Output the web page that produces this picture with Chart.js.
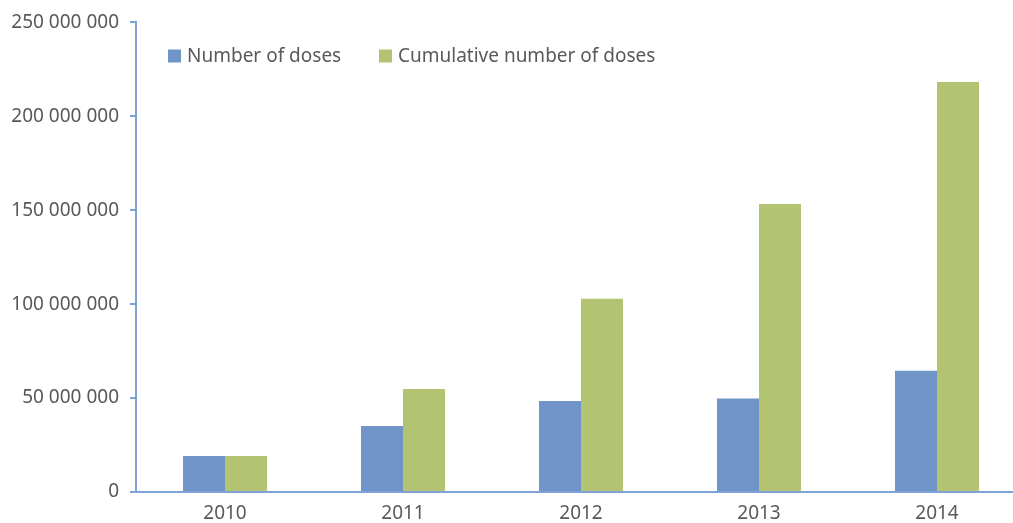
<!DOCTYPE html>
<html>
<head>
<meta charset="utf-8">
<script src="https://cdn.jsdelivr.net/npm/chart.js@4.4.1/dist/chart.umd.min.js"></script>
<style>
html,body{margin:0;padding:0;background:#fff;overflow:hidden;width:1013px;height:523px;}
#wrap{position:absolute;left:0;top:0;width:1030px;height:523px;}
</style>
</head>
<body>
<div id="wrap"><canvas id="c" width="1030" height="523"></canvas></div>
<script>
const categories = ['2010', '2011', '2012', '2013', '2014'];
const dosesPerYear = [19100000, 35100000, 48400000, 49800000, 64500000];
const cumulativeDoses = [19100000, 54900000, 102900000, 153300000, 218300000];
const yTickMax = 250000000;
const yTickStep = 50000000;

const BLUE = '#7194c8';
const GREEN = '#b2c471';
const AXIS = '#7ea2d6';
const TEXT = '#595959';
const FONT = '"Noto Sans", "Open Sans", sans-serif';

function fmt(v){ return String(v).replace(/\B(?=(\d{3})+(?!\d))/g, ' '); }

const legendPlugin = {
  id: 'customLegend',
  afterDraw(chart){
    const ctx = chart.ctx;
    const ds = chart.data.datasets;
    const xs = [168, 379];
    ctx.save();
    ctx.font = '19px ' + FONT;
    ctx.textBaseline = 'middle';
    ds.forEach((d, i) => {
      const x = xs[i];
      const y = 56;
      ctx.fillStyle = d.backgroundColor;
      ctx.fillRect(x, y - 6.5, 13, 13);
      ctx.fillStyle = TEXT;
      ctx.fillText(d.label, x + 19, y + 1);
    });
    ctx.restore();
  }
};

new Chart(document.getElementById('c'), {
  type: 'bar',
  data: {
    labels: categories,
    datasets: [
      { label: 'Number of doses', data: dosesPerYear, backgroundColor: BLUE, borderWidth: 0 },
      { label: 'Cumulative number of doses', data: cumulativeDoses, backgroundColor: GREEN, borderWidth: 0 }
    ]
  },
  options: {
    responsive: false,
    animation: false,
    layout: { padding: { left: 0, right: 4, top: 12, bottom: -4 } },
    datasets: { bar: { barPercentage: 1, categoryPercentage: 0.472 } },
    plugins: { legend: { display: false }, tooltip: { enabled: false } },
    scales: {
      x: {
        grid: { display: false },
        border: { display: true, color: AXIS, width: 2 },
        ticks: { color: TEXT, font: { family: FONT, size: 19, lineHeight: 1.0 }, padding: 4 }
      },
      y: {
        min: 0, max: yTickMax,
        afterFit(scale){ scale.width = 136; },
        grid: { display: true, drawOnChartArea: false, drawTicks: true, tickLength: 6, color: AXIS, lineWidth: 2 },
        border: { display: true, color: AXIS, width: 2 },
        ticks: { stepSize: yTickStep, color: TEXT, font: { family: FONT, size: 19 }, padding: 11, callback: v => fmt(v) }
      }
    }
  },
  plugins: [legendPlugin]
});
</script>
</body>
</html>
